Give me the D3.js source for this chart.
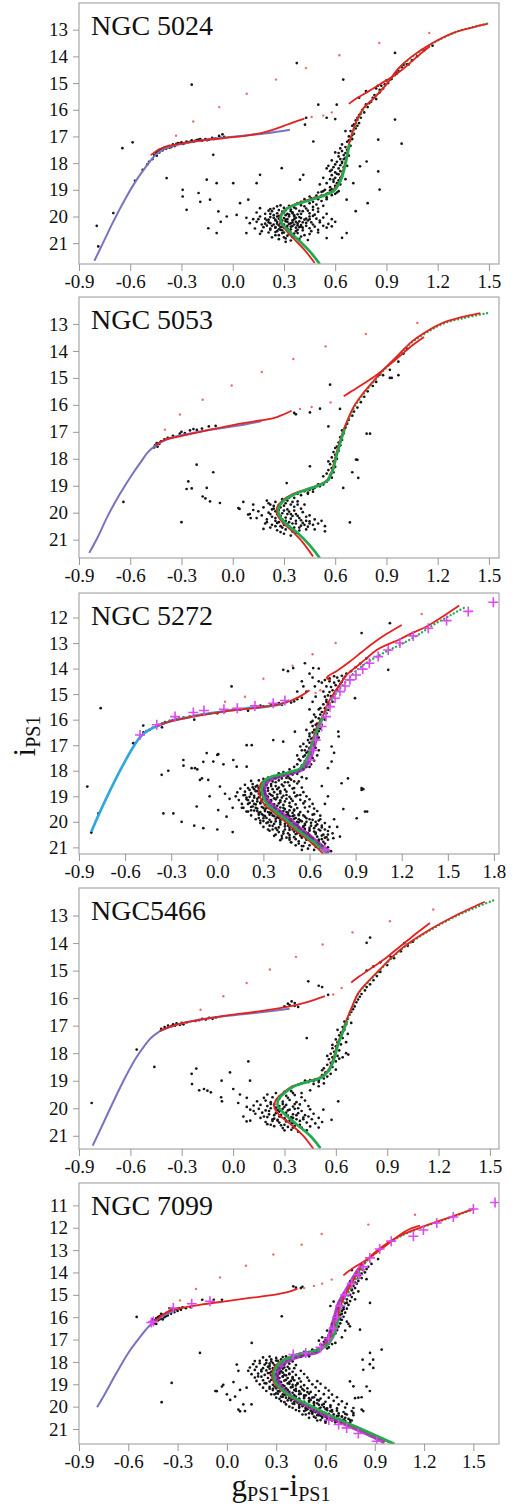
<!DOCTYPE html>
<html>
<head>
<meta charset="utf-8">
<script src="https://cdn.jsdelivr.net/npm/d3@7"></script>
<style>
  body { margin: 0; background: #fff; }
  svg { display: block; }
  text { font-family: "Liberation Serif", "Times New Roman", Times, serif; }
</style>
</head>
<body>
<svg id="cmd" width="517" height="1506"></svg>
<script>
'use strict';

/* Colour-magnitude diagrams of five globular clusters, g-i vs i (PS1). */

const clusterNames = ['NGC 5024', 'NGC 5053', 'NGC 5272', 'NGC5466', 'NGC 7099'];
const colorDomains = [[-0.9, 1.559], [-0.9, 1.559], [-0.9, 1.833], [-0.9, 1.553], [-0.9, 1.656]];
const magDomains = [[12.0, 21.78], [12.0, 21.68], [11.04, 21.26], [12.0, 21.48], [10.0, 21.67]];
const colorTicksShort = [-0.9, -0.6, -0.3, 0.0, 0.3, 0.6, 0.9, 1.2, 1.5];
const colorTicksLong = [-0.9, -0.6, -0.3, 0.0, 0.3, 0.6, 0.9, 1.2, 1.5, 1.8];
const magTicks13 = [13, 14, 15, 16, 17, 18, 19, 20, 21];
const magTicks12 = [12, 13, 14, 15, 16, 17, 18, 19, 20, 21];
const magTicks11 = [11, 12, 13, 14, 15, 16, 17, 18, 19, 20, 21];

// ---------------- NGC 5024 ----------------
const stars5024 = [
  // horizontal branch
  [-0.49,17.95],[-0.47,17.85],[-0.46,17.7],[-0.45,17.62],[-0.445,17.72],[-0.44,17.55],[-0.43,17.6],[-0.42,17.48],[-0.41,17.52],[-0.4,17.42],[-0.39,17.46],[-0.38,17.38],[-0.37,17.35],[-0.36,17.4],[-0.35,17.3],[-0.34,17.36],[-0.33,17.28],[-0.31,17.27],[-0.3,17.22],[-0.28,17.25],[-0.27,17.19],[-0.25,17.2],[-0.24,17.15],[-0.22,17.17],[-0.2,17.12],[-0.18,17.16],[-0.16,17.1],[-0.14,17.12],[-0.12,17.05],[-0.1,17.08],[-0.08,16.98],[-0.06,16.92],[-0.05,17.02],
  [-0.43,17.5],[-0.41,17.45],[-0.39,17.4],[-0.37,17.42],[-0.35,17.35],[-0.33,17.32],[-0.32,17.25],[-0.29,17.28],[-0.26,17.22],[-0.23,17.2],[-0.21,17.14],[-0.19,17.1],[-0.15,17.14],[-0.11,17.1],[-0.07,17.05],
  // blue tail
  [-0.646,17.44],[-0.586,17.22],[-0.572,18.66],[-0.699,19.87],[-0.796,20.35],[-0.787,21.12],[-0.387,18.56],[-0.527,18.25],[-0.5,18.05],
  // blue stragglers and field
  [-0.293,19.0],[-0.293,19.25],[-0.27,19.75],[-0.2,19.12],[-0.152,18.62],[-0.133,19.37],[-0.143,20.44],[-0.094,18.75],[-0.084,19.81],[-0.035,20.0],[0.003,18.75],[0.043,19.5],[0.091,19.37],[0.14,18.75],[0.16,19.69],[-0.19,19.45],[-0.094,20.62],[0.023,19.94],[0.08,20.62],[-0.07,20.2],
  [-0.24,15.06],[-0.114,17.69],[0.375,14.25],[0.95,13.87],[0.647,14.87],[0.501,15.81],[0.609,15.81],[0.423,16.56],[0.472,17.19],[0.852,17.12],[0.989,17.27],[0.95,16.37],[0.852,18.31],[0.86,18.99],[0.784,17.94],[0.745,18.12],[0.706,18.75],[0.667,19.37],[0.58,20.37],[0.667,20.62],[0.55,20.81],[0.16,18.44],[0.287,18.19],[0.413,18.44],[0.394,18.62],[0.6,16.35],[0.55,16.3],[0.43,16.3],[0.72,19.8],[0.64,20.8],[0.79,19.5],
  // red giant branch
  [0.5,19.1],[0.53,19.05],[0.56,19.12],[0.58,18.98],[0.45,19.25],[0.48,19.3],[0.52,19.22],[0.55,19.28],[0.6,19.15],[0.42,19.35],[0.4,19.45],[0.44,19.4],[0.47,19.45],[0.38,19.5],[0.5,19.35],[0.57,19.02],[0.62,19.05],
  [0.57,18.9],[0.6,18.85],[0.63,18.8],[0.55,18.75],[0.59,18.7],[0.62,18.65],[0.57,18.6],[0.6,18.55],[0.64,18.5],[0.53,18.55],[0.58,18.45],[0.62,18.42],[0.66,18.6],[0.51,18.8],
  [0.6,18.35],[0.63,18.3],[0.58,18.25],[0.62,18.2],[0.65,18.15],[0.56,18.1],[0.6,18.05],[0.64,18.0],[0.67,18.1],[0.61,17.95],[0.58,17.9],[0.63,17.85],[0.66,17.8],[0.55,18.2],
  [0.62,17.75],[0.65,17.7],[0.68,17.72],[0.6,17.6],[0.64,17.55],[0.67,17.5],[0.63,17.45],[0.66,17.4],[0.69,17.35],[0.64,17.3],
  [0.67,17.2],[0.7,17.1],[0.68,17.0],[0.71,16.9],[0.69,16.8],[0.72,16.7],[0.7,16.6],[0.74,16.5],[0.72,16.4],[0.75,16.3],[0.74,16.2],[0.77,16.1],[0.76,16.0],[0.79,15.9],[0.78,15.8],[0.81,15.7],[0.84,15.6],[0.83,15.45],[0.86,15.35],[0.88,15.2],[0.87,15.1],[0.91,15.0],[0.93,14.85],[0.95,14.7],[0.97,14.55],[0.99,14.4],[1.02,14.3],[1.05,14.15],[1.08,14.0],[1.12,13.78],[1.17,13.6],[0.84,15.2],[0.9,14.9],[0.66,16.8],[0.73,16.3],
  [0.59,18.62],[0.61,18.4],[0.63,18.08],[0.59,18.15],[0.62,17.62],[0.65,17.85],[0.6,18.92],[0.54,19.0],[0.49,19.22],[0.46,19.32],[0.63,18.55],[0.57,18.3],[0.64,17.95],[0.66,17.62],[0.61,18.75],[0.55,19.15],[0.52,19.08],[0.68,17.15],[0.7,16.95],[0.71,16.55],[0.73,16.6],[0.75,16.15],[0.8,15.75],[0.82,15.55],[0.86,15.25],[0.89,15.05],[0.96,14.65],[1.0,14.32],
  [0.74,15.55],[0.78,15.3],[0.85,15.1],[0.92,14.85],[0.96,14.6],[1.03,14.3],
  // turn-off and main sequence
  [0.26,19.62],[0.3,19.68],[0.33,19.6],[0.36,19.66],[0.4,19.58],[0.43,19.7],[0.22,19.72],[0.47,19.64],[0.28,19.58],[0.34,19.74],
  [0.14,19.85],[0.19,19.9],[0.23,19.8],[0.26,19.88],[0.29,19.82],[0.32,19.9],[0.35,19.84],[0.38,19.92],[0.41,19.8],[0.45,19.88],[0.5,19.82],[0.55,19.9],[0.21,19.78],[0.31,19.77],[0.39,19.79],[0.48,19.93],
  [0.08,20.05],[0.12,20.1],[0.16,20.0],[0.19,20.08],[0.22,20.02],[0.25,20.12],[0.27,19.98],[0.3,20.06],[0.33,20.0],[0.36,20.1],[0.39,20.02],[0.42,20.12],[0.45,20.0],[0.49,20.08],[0.53,20.04],[0.2,20.14],[0.28,20.15],[0.35,20.14],[0.44,20.15],[0.58,20.1],
  [0.1,20.25],[0.14,20.2],[0.17,20.3],[0.21,20.22],[0.24,20.3],[0.26,20.2],[0.29,20.28],[0.31,20.18],[0.34,20.26],[0.37,20.2],[0.4,20.32],[0.43,20.24],[0.47,20.3],[0.51,20.22],[0.56,20.28],[0.2,20.34],[0.32,20.35],[0.27,20.33],[0.38,20.33],[0.6,20.2],
  [0.13,20.45],[0.18,20.4],[0.22,20.5],[0.25,20.42],[0.28,20.5],[0.31,20.4],[0.34,20.48],[0.37,20.42],[0.41,20.52],[0.45,20.44],[0.5,20.5],[0.55,20.42],[0.26,20.55],[0.33,20.55],[0.4,20.38],
  [0.16,20.65],[0.21,20.6],[0.25,20.7],[0.29,20.62],[0.32,20.72],[0.36,20.64],[0.4,20.75],[0.45,20.66],[0.3,20.78],[0.5,20.6],[0.23,20.78],
  [0.27,20.85],[0.34,20.9],[0.39,20.84],[0.31,20.95],[0.44,20.88],
  [0.24,19.95],[0.27,20.08],[0.29,19.9],[0.31,20.12],[0.33,19.93],[0.35,20.22],[0.37,20.05],[0.26,20.27],[0.28,20.4],[0.3,20.3],[0.32,20.45],[0.35,20.36],[0.38,20.5],[0.23,20.35],[0.21,20.12],[0.19,20.27],[0.25,20.58],[0.29,20.52],[0.33,20.66],[0.36,20.3],[0.39,20.18],[0.41,20.42],[0.43,20.08],[0.46,20.22],[0.48,20.38],[0.3,19.85],[0.34,19.8],[0.37,19.7],[0.4,19.9],[0.42,19.62],[0.45,19.5],[0.49,19.55],[0.52,19.42],[0.55,19.35],[0.58,19.2],[0.61,19.1],[0.44,19.78],[0.47,19.98],[0.51,20.15],[0.53,20.35],[0.27,20.7],[0.31,20.82],[0.35,20.77],[0.38,20.62],[0.42,20.7],[0.22,20.45],[0.17,20.55],[0.15,20.1],[0.24,19.7],[0.36,19.95],[0.4,20.06],[0.25,20.15],[0.32,20.2],[0.29,20.38],[0.34,20.6],[0.27,19.76],[0.38,20.26],[0.3,20.6],[0.22,19.9],[0.46,20.55],
  [0.26,20.0],[0.28,20.25],[0.3,20.42],[0.32,20.1],[0.34,20.38],[0.36,20.0],[0.33,20.28],[0.27,20.48],[0.29,20.15],[0.31,19.95],[0.35,19.88],[0.39,20.4],[0.41,20.22],[0.24,20.05],[0.22,20.25],[0.25,20.4],[0.37,20.55],[0.43,20.35],[0.45,20.1],[0.5,19.7],[0.53,19.6],[0.47,19.75]
];
const zahb5024 = [[-0.81,21.66],[-0.76,21.0],[-0.7,20.2],[-0.63,19.35],[-0.56,18.6],[-0.51,18.15],[-0.48,17.9],[-0.45,17.68],[-0.41,17.5],[-0.35,17.36],[-0.25,17.22],[-0.1,17.08],[0.05,16.98],[0.2,16.88],[0.335,16.75]];
const hb5024 = [[-0.48,17.7],[-0.44,17.52],[-0.4,17.4],[-0.33,17.3],[-0.2,17.17],[-0.05,17.06],[0.1,16.95],[0.2,16.82],[0.28,16.65],[0.35,16.48],[0.42,16.33]];
const rgb5024 = [[0.48,21.74],[0.42,21.25],[0.36,20.85],[0.31,20.5],[0.28,20.2],[0.28,19.95],[0.31,19.72],[0.36,19.55],[0.45,19.36],[0.53,19.2],[0.58,19.05],[0.62,18.75],[0.645,18.3],[0.665,17.8],[0.68,17.3],[0.7,16.85],[0.73,16.35],[0.77,15.9],[0.83,15.55],[0.9,15.05],[0.97,14.45],[1.05,14.0],[1.17,13.5],[1.3,13.1],[1.4,12.92],[1.49,12.78]];
const green5024 = [[0.51,21.78],[0.45,21.3],[0.38,20.85],[0.32,20.5],[0.285,20.2],[0.285,19.95],[0.315,19.72],[0.37,19.55],[0.46,19.37],[0.54,19.2],[0.59,19.05],[0.625,18.75],[0.65,18.3],[0.668,17.8],[0.683,17.3]];
const greenDots5024 = [[0.683,17.3],[0.705,16.85],[0.735,16.35],[0.775,15.9],[0.835,15.5],[0.905,15.0],[0.975,14.45],[1.06,13.97],[1.18,13.48],[1.31,13.08],[1.41,12.9],[1.5,12.76]];
const agb5024 = [[0.68,15.78],[0.73,15.55],[0.79,15.33],[0.86,15.05],[0.93,14.78],[0.98,14.56],[1.05,14.18],[1.1,13.9],[1.155,13.62]];
const redDots5024 = [[1.151,13.12],[0.858,13.5],[0.624,13.96],[0.429,14.44],[0.253,14.87],[0.082,15.4],[-0.079,15.9],[-0.231,16.44],[-0.332,16.97],[0.462,16.27],[0.53,16.22],[0.58,16.1]];

// ---------------- NGC 5053 ----------------
const stars5053 = [
  // horizontal branch
  [-0.455,17.5],[-0.445,17.42],[-0.43,17.45],[-0.42,17.35],[-0.4,17.28],[-0.38,17.22],[-0.35,17.15],[-0.31,17.07],[-0.3,17.0],[-0.28,17.05],[-0.25,16.95],[-0.23,16.9],[-0.21,16.93],[-0.18,16.88],[-0.14,16.8],[-0.1,16.78],[-0.44,17.55],[-0.46,17.58],
  [-0.64,19.6],
  // blue stragglers and field
  [-0.211,18.22],[-0.26,18.84],[-0.27,19.12],[-0.24,19.1],[-0.152,19.08],[-0.114,18.5],[-0.176,19.4],[-0.16,19.47],[-0.133,19.58],[-0.075,19.64],[-0.3,20.35],[0.062,19.6],[0.033,19.83],[0.04,19.86],[0.09,20.07],[0.12,19.7],[0.105,20.2],
  [0.57,15.25],[0.511,16.14],[0.452,16.28],[0.36,16.3],[0.37,16.35],[0.628,16.15],[0.56,16.8],[0.784,17.07],[0.804,17.07],[0.722,18.03],[0.73,18.04],[0.7,18.5],[0.735,18.71],[0.647,19.08],[0.686,20.36],[0.54,20.69],[0.452,18.28],[0.316,18.9],[0.931,15.0],
  // red giant branch
  [0.42,19.2],[0.45,19.15],[0.48,19.08],[0.51,19.02],[0.53,18.95],[0.55,18.85],[0.56,18.78],[0.58,18.7],[0.57,18.6],[0.59,18.5],[0.56,18.42],[0.58,18.35],[0.6,18.3],[0.57,18.2],[0.59,18.1],[0.61,18.0],[0.58,17.95],[0.6,17.85],[0.62,17.7],[0.6,17.6],[0.63,17.5],[0.62,17.4],[0.64,17.3],[0.63,17.2],[0.65,17.05],[0.64,16.95],[0.66,16.85],[0.67,16.7],[0.68,16.55],[0.7,16.4],[0.71,16.25],[0.73,16.1],[0.75,15.9],[0.77,15.7],[0.79,15.5],[0.82,15.3],[0.84,15.15],[0.88,14.9],[0.92,14.7],[0.97,14.4],[0.55,18.55],[0.53,18.65],[0.6,18.0],[0.5,18.95],[0.44,19.25],[0.38,19.3],[0.47,19.12],[0.61,17.55],[0.59,17.75],[0.56,18.1],
  [0.86,14.88],[1.0,14.1],[1.02,13.92],[0.97,14.9],[0.92,15.0],
  // turn-off and main sequence
  [0.2,19.55],[0.25,19.6],[0.29,19.5],[0.33,19.45],[0.22,19.7],[0.27,19.72],[0.31,19.65],[0.35,19.6],[0.18,19.8],[0.24,19.85],[0.28,19.8],[0.32,19.88],[0.36,19.78],[0.4,19.85],[0.15,19.95],[0.21,20.0],[0.25,19.95],[0.29,20.02],[0.33,19.96],[0.37,20.05],[0.41,19.98],[0.45,20.1],[0.17,20.1],[0.23,20.15],[0.27,20.1],[0.31,20.18],[0.35,20.12],[0.39,20.2],[0.43,20.15],[0.48,20.25],[0.2,20.25],[0.25,20.3],[0.29,20.25],[0.33,20.35],[0.37,20.3],[0.41,20.38],[0.45,20.32],[0.5,20.4],[0.23,20.45],[0.28,20.5],[0.32,20.42],[0.36,20.55],[0.4,20.48],[0.44,20.52],[0.47,20.45],[0.26,20.65],[0.31,20.62],[0.35,20.7],[0.39,20.66],[0.3,20.78],[0.34,20.85],[0.12,19.9],[0.1,20.05],[0.14,20.2],[0.19,20.4],[0.52,20.3],[0.54,20.5],[0.48,20.62],[0.21,19.65],[0.38,19.58],[0.42,19.7],[0.26,20.38],[0.3,19.92],[0.34,20.05],[0.22,20.55],[0.18,20.6],[0.27,19.9],[0.3,20.45],[0.37,20.4],[0.43,20.3],
  [0.24,19.75],[0.26,19.9],[0.28,20.12],[0.3,19.74],[0.32,20.05],[0.34,20.22],[0.36,19.92],[0.38,20.12],[0.27,20.35],[0.31,20.3],[0.29,20.55],[0.33,20.5],[0.35,20.4],[0.39,20.55],[0.42,20.45],[0.25,20.2],[0.22,20.05],[0.2,20.35],[0.23,19.88],[0.32,19.55],[0.36,19.45],[0.4,19.35],[0.44,19.3],[0.47,19.22],[0.4,20.28],[0.43,20.62],[0.37,20.75],[0.28,20.72],[0.25,20.5],[0.45,20.4],[0.34,19.7],[0.26,20.05],[0.3,20.4],[0.38,19.7]
];
const zahb5053 = [[-0.84,21.49],[-0.79,20.9],[-0.73,20.1],[-0.66,19.3],[-0.58,18.5],[-0.53,18.05],[-0.5,17.78],[-0.46,17.55],[-0.42,17.38],[-0.35,17.2],[-0.2,17.0],[-0.05,16.85],[0.08,16.72],[0.17,16.6]];
const hb5053 = [[-0.45,17.5],[-0.4,17.3],[-0.31,17.17],[-0.15,16.95],[0.0,16.75],[0.12,16.62],[0.24,16.49],[0.3,16.35],[0.345,16.22]];
const rgb5053 = [[0.47,21.62],[0.41,21.1],[0.35,20.7],[0.29,20.35],[0.26,20.05],[0.26,19.8],[0.29,19.55],[0.34,19.35],[0.42,19.15],[0.49,19.0],[0.55,18.8],[0.58,18.45],[0.6,17.95],[0.625,17.4],[0.65,16.9],[0.68,16.45],[0.71,16.05],[0.76,15.6],[0.82,15.15],[0.89,14.65],[0.97,14.15],[1.04,13.7],[1.13,13.3],[1.23,12.96],[1.34,12.75],[1.45,12.6]];
const green5053 = [[0.51,21.68],[0.45,21.2],[0.38,20.75],[0.31,20.4],[0.27,20.05],[0.27,19.8],[0.3,19.55],[0.35,19.35],[0.43,19.15],[0.5,19.0],[0.555,18.8],[0.585,18.45],[0.605,17.95],[0.63,17.4],[0.655,16.9]];
const greenDots5053 = [[0.655,16.9],[0.685,16.45],[0.715,16.05],[0.765,15.6],[0.825,15.15],[0.895,14.65],[0.975,14.15],[1.045,13.7],[1.14,13.3],[1.24,12.97],[1.36,12.77],[1.49,12.6]];
const agb5053 = [[0.65,15.68],[0.7,15.48],[0.77,15.2],[0.84,14.9],[0.92,14.5],[0.98,14.18],[1.05,13.8],[1.12,13.48]];
const redDots5053 = [[1.081,12.96],[0.78,13.37],[0.544,13.83],[0.355,14.3],[0.17,14.78],[-0.006,15.28],[-0.176,15.81],[-0.309,16.36],[-0.397,16.92],[0.394,16.15],[0.462,16.08],[0.573,15.91]];

// ---------------- NGC 5272 ----------------
const stars5272 = [
  // horizontal branch
  [-0.5,16.66],[-0.48,16.5],[-0.46,16.45],[-0.44,16.4],[-0.42,16.32],[-0.4,16.28],[-0.38,16.2],[-0.36,16.15],[-0.34,16.1],[-0.31,16.05],[-0.29,16.02],[-0.27,15.98],[-0.25,15.96],[-0.22,15.92],[-0.18,15.88],[-0.15,15.85],[-0.1,15.8],[-0.05,15.75],[0.05,15.68],[0.1,15.62],[0.15,15.6],[0.2,15.55],[0.25,15.52],[0.3,15.48],[0.35,15.42],[0.4,15.35],[0.45,15.3],[0.5,15.28],[0.52,15.2],[0.55,15.15],[-0.15,16.0],[-0.54,16.95],[-0.36,16.3],[0.0,15.75],[0.2,15.65],[0.28,15.45],[0.42,15.42],[0.48,15.33],
  // blue tail and field
  [-0.846,18.62],[-0.774,19.67],[-0.759,15.55],[-0.547,16.92],[-0.482,16.23],[-0.82,20.42],
  [-0.362,18.16],[-0.319,18.0],[-0.221,17.58],[-0.22,17.8],[-0.167,17.9],[-0.091,17.65],[-0.069,17.31],[0.006,17.35],[-0.113,18.36],[0.017,18.62],[-0.351,19.67],[-0.286,19.67],[-0.232,20.0],[-0.15,20.15],[-0.091,20.25],[0.006,19.54],[0.06,19.8],[0.1,19.45],[-0.145,17.9],[-0.13,17.95],[-0.026,17.64],[0.04,17.75],[0.104,17.58],[0.0,17.38],[-0.059,18.36],[-0.1,18.3],[-0.134,19.4],[0.126,17.84],[0.191,17.84],[0.191,17.0],[0.224,17.0],[0.364,16.8],[0.093,14.7],[0.429,16.86],[0.505,16.47],[0.05,18.9],[0.08,19.1],[0.0,20.3],[-0.05,19.0],[0.1,20.4],
  [0.787,16.47],[0.79,16.66],[0.744,17.05],[0.76,17.3],[0.744,17.64],[0.72,17.9],[0.809,18.49],[0.939,18.68],[0.95,18.72],[0.85,18.3],[0.68,18.6],[0.72,19.0],[0.7,19.3],[0.755,20.64],[0.78,20.2],[0.907,19.86],[0.961,19.6],[0.975,19.6],[0.939,18.75],[0.798,20.58],[0.76,19.9],[0.82,19.5],
  [0.429,14.05],[0.494,13.98],[0.57,13.79],[0.624,13.98],[0.46,14.1],[0.66,14.0],[0.55,14.5],[0.66,14.5],[0.635,14.7],[0.56,14.7],[0.52,14.9],[0.896,15.16],[0.939,12.61],[1.123,12.22],[1.112,14.05],[0.6,14.2],[0.62,14.35],[0.58,14.9],[0.64,15.1],[0.62,15.3],[0.6,15.6],[0.63,15.8],
  // red giant branch
  [0.5,18.05],[0.53,18.0],[0.56,17.95],[0.45,18.1],[0.48,18.12],[0.58,17.85],[0.55,17.8],[0.52,17.75],[0.57,17.7],[0.6,17.65],[0.54,17.6],[0.58,17.55],[0.62,17.5],[0.56,17.45],[0.6,17.4],[0.52,17.4],[0.58,17.3],[0.62,17.25],[0.55,17.2],[0.6,17.15],[0.64,17.1],[0.58,17.05],[0.62,17.0],[0.56,16.95],[0.6,16.9],[0.64,16.85],[0.59,16.8],[0.62,16.72],[0.66,16.7],[0.6,16.65],[0.64,16.6],[0.62,16.5],[0.66,16.45],[0.63,16.4],[0.67,16.35],[0.65,16.3],[0.62,16.25],[0.68,16.2],[0.65,16.15],[0.67,16.05],[0.7,16.0],[0.66,15.95],[0.69,15.9],[0.67,15.8],[0.71,15.75],[0.68,15.7],[0.72,15.62],[0.7,15.55],[0.73,15.48],[0.69,15.4],[0.72,15.35],[0.75,15.3],[0.71,15.22],[0.74,15.15],[0.72,15.05],[0.76,15.0],[0.73,14.92],[0.75,14.85],[0.78,14.8],[0.74,14.72],[0.77,14.65],[0.8,14.6],[0.76,14.55],[0.79,14.48],[0.82,14.4],[0.78,14.35],[0.81,14.28],[0.84,14.2],[0.87,14.1],[0.9,13.95],[0.93,13.8],[0.97,13.6],[0.55,17.9],[0.5,17.85],[0.47,17.95],[0.43,18.05],[0.4,18.1],[0.61,17.75],[0.53,17.55],[0.57,17.2],[0.54,17.05],[0.6,16.55],[0.58,16.4],[0.61,16.1],[0.64,15.9],[0.66,15.6],[0.7,15.1],[0.71,14.7],[0.73,14.5],[0.7,14.45],[0.73,14.38],[0.76,14.3],[0.68,14.55],
  [0.6,17.85],[0.63,17.6],[0.65,17.4],[0.57,17.62],[0.59,17.25],[0.63,16.95],[0.61,16.75],[0.65,16.55],[0.64,16.2],[0.68,15.98],[0.7,15.68],[0.73,15.42],[0.74,15.08],[0.77,14.88],[0.79,14.7],[0.81,14.52],[0.83,14.32],[0.66,17.2],[0.6,17.1],[0.57,17.4],[0.64,16.4],[0.62,16.05],[0.67,15.55],[0.71,15.3],[0.69,14.9],
  // turn-off and main sequence
  [0.33,18.27],[0.36,18.22],[0.4,18.25],[0.43,18.18],[0.46,18.22],[0.49,18.15],[0.38,18.3],[0.45,18.28],[0.52,18.12],[0.3,18.32],
  [0.22,18.4],[0.27,18.38],[0.3,18.44],[0.33,18.36],[0.36,18.42],[0.4,18.38],[0.44,18.45],[0.48,18.35],[0.53,18.42],
  [0.18,18.55],[0.23,18.52],[0.26,18.58],[0.29,18.5],[0.32,18.56],[0.35,18.52],[0.38,18.6],[0.42,18.54],[0.47,18.58],[0.52,18.5],
  [0.15,18.7],[0.2,18.68],[0.24,18.72],[0.27,18.66],[0.3,18.74],[0.33,18.68],[0.36,18.72],[0.4,18.66],[0.44,18.74],[0.49,18.7],[0.55,18.66],
  [0.13,18.85],[0.18,18.82],[0.22,18.88],[0.25,18.8],[0.28,18.86],[0.31,18.82],[0.34,18.9],[0.37,18.84],[0.41,18.88],[0.45,18.82],[0.5,18.86],[0.56,18.84],
  [0.12,19.0],[0.17,18.96],[0.21,19.02],[0.24,18.98],[0.27,19.04],[0.3,18.96],[0.33,19.02],[0.36,18.98],[0.39,19.04],[0.43,18.98],[0.47,19.02],[0.52,18.96],[0.58,19.0],
  [0.14,19.15],[0.19,19.12],[0.23,19.18],[0.26,19.1],[0.29,19.16],[0.32,19.12],[0.35,19.18],[0.38,19.12],[0.41,19.16],[0.45,19.1],[0.49,19.18],[0.54,19.14],[0.6,19.12],
  [0.16,19.3],[0.21,19.26],[0.25,19.32],[0.28,19.28],[0.31,19.34],[0.34,19.26],[0.37,19.32],[0.4,19.28],[0.43,19.34],[0.47,19.26],[0.51,19.32],[0.56,19.28],[0.62,19.3],
  [0.17,19.45],[0.22,19.42],[0.26,19.48],[0.29,19.42],[0.32,19.46],[0.35,19.4],[0.38,19.48],[0.41,19.44],[0.44,19.5],[0.48,19.42],[0.52,19.46],[0.57,19.44],[0.63,19.48],
  [0.19,19.6],[0.24,19.56],[0.28,19.62],[0.31,19.58],[0.34,19.64],[0.37,19.56],[0.4,19.62],[0.43,19.58],[0.46,19.64],[0.5,19.56],[0.54,19.62],[0.59,19.6],[0.65,19.58],
  [0.22,19.75],[0.27,19.72],[0.31,19.78],[0.34,19.72],[0.37,19.78],[0.4,19.74],[0.43,19.8],[0.46,19.72],[0.49,19.78],[0.53,19.74],[0.57,19.8],[0.62,19.72],[0.67,19.76],
  [0.25,19.9],[0.3,19.86],[0.34,19.92],[0.38,19.88],[0.41,19.94],[0.44,19.86],[0.47,19.92],[0.5,19.88],[0.54,19.94],[0.58,19.86],[0.62,19.92],[0.67,19.9],
  [0.28,20.05],[0.33,20.02],[0.37,20.08],[0.41,20.02],[0.44,20.08],[0.47,20.04],[0.5,20.1],[0.53,20.02],[0.57,20.08],[0.61,20.04],[0.65,20.1],[0.7,20.05],
  [0.3,20.2],[0.36,20.16],[0.4,20.22],[0.44,20.18],[0.47,20.24],[0.5,20.16],[0.53,20.22],[0.56,20.18],[0.6,20.24],[0.64,20.16],[0.68,20.22],
  [0.34,20.35],[0.39,20.32],[0.43,20.38],[0.47,20.32],[0.5,20.38],[0.53,20.34],[0.56,20.4],[0.6,20.32],[0.63,20.38],[0.67,20.34],[0.72,20.36],
  [0.38,20.5],[0.43,20.46],[0.47,20.52],[0.51,20.48],[0.54,20.54],[0.57,20.46],[0.6,20.52],[0.64,20.48],[0.68,20.54],[0.72,20.5],
  [0.42,20.65],[0.47,20.62],[0.51,20.68],[0.55,20.62],[0.58,20.68],[0.62,20.64],[0.66,20.7],[0.7,20.62],
  [0.48,20.8],[0.53,20.76],[0.57,20.82],[0.61,20.78],[0.65,20.84],[0.69,20.78],
  [0.55,20.95],[0.6,20.92],[0.64,20.98],[0.68,20.94],
  [0.29,18.6],[0.31,18.45],[0.34,18.33],[0.37,18.28],[0.42,18.3],[0.47,18.3],[0.26,18.8],[0.28,18.95],[0.3,19.1],[0.27,18.7],[0.31,18.9],[0.33,18.78],[0.35,18.95],[0.37,19.08],[0.39,18.93],[0.32,19.22],[0.34,19.4],[0.36,19.52],[0.39,19.37],[0.41,19.22],[0.43,19.45],[0.45,19.62],[0.42,19.68],[0.47,19.78],[0.49,19.65],[0.51,19.85],[0.48,19.98],[0.52,20.12],[0.55,19.98],[0.57,20.28],[0.54,20.3],[0.59,20.44],[0.61,20.6],[0.63,20.25],[0.65,20.58],[0.66,20.75],[0.58,20.7],[0.62,20.85],[0.7,20.85],[0.72,21.0],[0.67,21.05],[0.63,21.1],[0.4,19.85],[0.38,19.62],[0.36,19.75],[0.44,19.95],[0.46,20.15],[0.49,20.3],[0.52,20.45],[0.55,20.58],[0.44,20.3],[0.41,20.1],[0.38,19.98],[0.3,19.45],[0.28,19.25],[0.26,19.2],[0.24,19.05],[0.22,18.92],[0.25,18.62],[0.21,18.75],[0.19,19.05],[0.2,19.3],[0.23,19.4],[0.26,19.58],[0.29,19.7],[0.32,19.85],[0.35,20.0],[0.33,19.62],[0.47,19.38],[0.5,19.52],[0.53,19.7],[0.56,19.75],[0.6,19.9],[0.64,20.0],[0.68,20.15],[0.7,20.3],[0.61,20.15],[0.58,20.0],[0.45,18.95],[0.48,19.1],[0.51,19.0],[0.42,19.05],[0.39,18.72],[0.43,18.6],[0.46,18.45],[0.5,18.42],[0.55,18.25],[0.58,18.3],[0.5,18.68],[0.54,18.95],[0.57,19.2],[0.6,19.4],[0.63,19.7],[0.66,19.95],[0.69,20.5],[0.72,20.7],[0.73,20.2],[0.75,20.45],[0.5,20.6],[0.46,20.45],[0.47,20.7],[0.53,20.85],[0.56,20.95],[0.59,21.05],[0.35,19.15],[0.24,19.3],[0.18,18.95],[0.16,19.45],[0.2,19.6],[0.3,19.97],[0.34,20.15],[0.38,20.25],[0.27,19.85],
  [0.285,18.55],[0.3,18.68],[0.32,18.98],[0.29,19.18],[0.31,19.52],[0.33,19.3],[0.35,19.66],[0.37,19.44],[0.39,19.82],[0.41,19.58],[0.43,19.9],[0.45,19.74],[0.46,20.05],[0.48,19.9],[0.5,20.22],[0.52,20.0],[0.54,20.38],[0.56,20.2],[0.58,20.52],[0.6,20.35],[0.62,20.7],[0.64,20.42],[0.66,20.88],[0.68,20.68],[0.7,21.1],[0.74,21.15],[0.27,18.9],[0.25,19.45],[0.27,19.65],[0.3,19.75],[0.32,20.05],[0.36,20.3],[0.4,20.4],[0.42,20.55],[0.45,20.62],[0.48,20.8],[0.51,20.92],[0.55,21.1],[0.35,18.6],[0.38,18.45],[0.41,18.8],[0.44,19.2],[0.47,19.55],[0.5,19.75],[0.53,19.9],[0.57,20.12],[0.6,20.6],[0.63,20.88],[0.66,20.3],[0.71,20.6],[0.23,18.65],[0.2,19.15],[0.22,19.55],[0.28,19.95],[0.33,20.3],[0.37,20.55],[0.41,20.72]
];
const zahb5272 = [[-0.82,20.39],[-0.77,19.7],[-0.7,18.8],[-0.62,17.85],[-0.55,17.1],[-0.5,16.66],[-0.45,16.42],[-0.39,16.25],[-0.3,16.05],[-0.2,15.92],[-0.11,15.81],[0.0,15.71],[0.1,15.62],[0.2,15.55],[0.32,15.49],[0.42,15.38],[0.47,15.24]];
const hb5272 = [[-0.4,16.27],[-0.3,16.06],[-0.2,15.93],[-0.1,15.82],[0.0,15.72],[0.1,15.64],[0.2,15.58],[0.3,15.5],[0.4,15.4],[0.48,15.25],[0.55,15.05],[0.6,14.85]];
const rgb5272 = [[0.69,21.26],[0.62,20.85],[0.56,20.58],[0.49,20.25],[0.43,19.93],[0.36,19.6],[0.31,19.34],[0.28,19.05],[0.272,18.8],[0.29,18.45],[0.34,18.27],[0.4,18.17],[0.48,18.04],[0.535,17.92],[0.585,17.5],[0.61,17.0],[0.63,16.6],[0.655,16.2],[0.69,15.8],[0.72,15.35],[0.76,14.95],[0.8,14.6],[0.85,14.2],[0.907,13.92],[0.97,13.6],[1.037,13.27],[1.11,13.05],[1.188,12.85],[1.27,12.6],[1.362,12.35],[1.47,11.95],[1.574,11.53]];
const green5272 = [[0.715,21.26],[0.64,20.85],[0.58,20.58],[0.51,20.25],[0.45,19.93],[0.38,19.6],[0.33,19.34],[0.3,19.05],[0.288,18.75],[0.31,18.38],[0.36,18.22],[0.41,18.15],[0.49,18.02],[0.54,17.9],[0.59,17.45],[0.615,17.0],[0.635,16.66],[0.66,16.25],[0.69,15.88]];
const greenDots5272 = [[0.69,15.88],[0.73,15.4],[0.775,14.96],[0.84,14.5],[0.9,14.1],[0.97,13.78],[1.037,13.53],[1.11,13.3],[1.188,13.07],[1.3,12.7],[1.405,12.29],[1.52,11.9],[1.62,11.57]];
const purple5272 = [[0.73,21.2],[0.66,20.85],[0.6,20.55],[0.53,20.22],[0.47,19.9],[0.4,19.58],[0.35,19.3],[0.315,19.0],[0.305,18.75],[0.33,18.4],[0.42,18.18],[0.55,17.95],[0.605,17.5],[0.63,17.0],[0.65,16.6]];
const agb5272 = [[0.74,14.44],[0.712,14.38],[0.72,14.3],[0.78,14.08],[0.863,13.72],[0.94,13.35],[1.015,13.0],[1.1,12.65],[1.2,12.29]];
const redDots5272 = [[1.33,11.86],[0.77,13.0],[0.62,13.44],[0.49,13.89],[0.3,14.4],[0.18,15.1],[0.05,15.3],[0.64,14.95],[0.67,14.85]];
const crosses5272 = [
  [-0.503,16.6],[-0.394,16.2],[-0.275,15.88],[-0.156,15.72],[-0.087,15.64],[0.043,15.59],[0.13,15.55],[0.245,15.46],[0.364,15.36],[0.44,15.25],
  [1.796,11.4],[1.633,11.76],[1.492,12.12],[1.373,12.42],[1.275,12.72],[1.188,13.0],[1.112,13.27],[1.047,13.53],[0.989,13.79],[0.946,14.02],[0.902,14.25],[0.863,14.44],[0.831,14.68],[0.798,14.9],[0.766,15.16],[0.733,15.49],[0.707,15.88],[0.679,16.27],
  [0.64,16.8],[0.62,17.2],[0.603,17.58],[0.7,21.1]
];

// ---------------- NGC 5466 ----------------
const stars5466 = [
  // horizontal branch
  [-0.42,17.12],[-0.4,17.05],[-0.38,17.0],[-0.36,17.02],[-0.35,16.95],[-0.33,16.92],[-0.31,16.97],[-0.3,16.9],[-0.29,16.95],[-0.27,16.88],[-0.2,16.8],[-0.18,16.75],[-0.16,16.78],[-0.14,16.72],[-0.12,16.75],[-0.1,16.7],[-0.22,16.83],[-0.34,17.0],[0.3,16.3],[0.33,16.25],[0.36,16.28],[0.32,16.2],[0.38,16.32],
  [-0.826,19.81],[-0.563,17.87],[-0.46,18.5],
  // blue stragglers and field
  [0.089,18.3],[-0.242,18.75],[-0.215,18.56],[-0.018,18.7],[-0.24,19.12],[-0.198,19.35],[-0.17,19.3],[-0.15,19.36],[-0.13,19.42],[-0.067,19.0],[-0.07,19.6],[-0.065,19.75],[0.001,19.3],[0.04,19.5],[0.099,19.0],[0.08,19.62],[0.03,19.81],[0.079,20.48],[0.12,20.1],
  [0.439,15.39],[0.52,15.6],[0.5,15.55],[0.555,15.88],[0.43,17.45],[0.614,19.75],[0.575,20.42],[0.527,20.05],[0.66,18.0],[0.673,18.05],[0.78,13.99],[0.8,13.8],[0.342,16.12],[0.36,16.18],
  // red giant branch
  [0.4,19.1],[0.44,19.05],[0.47,19.02],[0.5,18.98],[0.53,18.92],[0.48,18.95],[0.55,18.85],[0.52,18.8],[0.57,18.75],[0.54,18.7],[0.56,18.62],[0.53,18.55],[0.58,18.5],[0.55,18.42],[0.57,18.35],[0.6,18.3],[0.56,18.22],[0.58,18.15],[0.61,18.1],[0.57,18.02],[0.59,17.95],[0.62,17.9],[0.58,17.82],[0.6,17.75],[0.63,17.68],[0.61,17.6],[0.6,17.5],[0.64,17.45],[0.62,17.35],[0.63,17.25],[0.65,17.15],[0.64,17.05],[0.66,16.95],[0.65,16.85],[0.67,16.75],[0.68,16.6],[0.69,16.5],[0.7,16.4],[0.71,16.3],[0.72,16.15],[0.73,16.05],[0.74,15.95],[0.75,15.85],[0.77,15.72],[0.78,15.6],[0.8,15.5],[0.82,15.35],[0.84,15.2],[0.86,15.05],[0.9,14.8],[0.94,14.55],[0.98,14.3],[1.02,14.1],[1.05,13.95],[0.5,19.05],[0.45,18.98],[0.52,18.62],[0.62,18.2],[0.66,17.6],[0.55,18.1],[0.58,17.7],[0.61,17.15],[0.69,16.9],[0.47,19.12],[0.38,19.15],[0.35,19.2],[0.42,19.0],[0.6,18.6],[0.64,18.15],[0.67,17.3],
  [0.78,15.0],[0.86,14.7],[0.92,14.5],[1.0,14.0],[1.02,14.05],[0.82,14.85],
  // turn-off and main sequence
  [0.2,19.5],[0.25,19.45],[0.3,19.4],[0.34,19.38],[0.18,19.62],[0.23,19.6],[0.27,19.58],[0.31,19.55],[0.36,19.52],[0.4,19.6],[0.14,19.75],[0.19,19.72],[0.22,19.78],[0.26,19.7],[0.29,19.76],[0.33,19.7],[0.37,19.78],[0.42,19.72],[0.12,19.9],[0.16,19.88],[0.2,19.92],[0.24,19.86],[0.27,19.92],[0.31,19.88],[0.35,19.94],[0.39,19.86],[0.44,19.92],[0.1,20.05],[0.15,20.02],[0.19,20.08],[0.22,20.0],[0.26,20.06],[0.29,20.02],[0.32,20.08],[0.36,20.02],[0.4,20.1],[0.45,20.04],[0.13,20.2],[0.17,20.16],[0.21,20.22],[0.25,20.18],[0.28,20.24],[0.31,20.16],[0.35,20.22],[0.38,20.18],[0.42,20.25],[0.47,20.2],[0.16,20.35],[0.2,20.32],[0.24,20.38],[0.27,20.3],[0.3,20.36],[0.34,20.32],[0.37,20.4],[0.41,20.34],[0.46,20.4],[0.5,20.35],[0.19,20.5],[0.23,20.46],[0.27,20.52],[0.31,20.48],[0.35,20.54],[0.39,20.46],[0.43,20.52],[0.48,20.55],[0.24,20.65],[0.28,20.62],[0.32,20.68],[0.36,20.64],[0.4,20.7],[0.45,20.66],[0.3,20.8],[0.34,20.78],[0.38,20.85],[0.43,20.8],[0.08,19.95],[0.06,20.3],[0.1,20.45],[0.52,20.5],[0.5,20.7],[0.22,20.6],[0.35,19.45],[0.29,19.85],[0.33,20.45],[0.26,20.42],
  [0.22,19.85],[0.25,19.98],[0.27,20.12],[0.3,19.95],[0.28,20.3],[0.32,20.27],[0.24,20.25],[0.26,20.45],[0.3,20.6],[0.34,20.55],[0.37,20.25],[0.33,20.05],[0.36,19.85],[0.21,20.1],[0.18,20.3],[0.2,20.58],[0.29,20.72],[0.35,20.7],[0.39,20.6],[0.41,20.4],[0.44,20.3],[0.38,20.0],[0.32,19.62],[0.27,19.65],[0.4,19.45],[0.45,19.35],[0.5,19.2],[0.53,19.1],[0.23,20.4],[0.27,20.02],[0.31,20.45],[0.35,20.35]
];
const zahb5466 = [[-0.82,21.36],[-0.77,20.7],[-0.71,19.9],[-0.64,19.0],[-0.57,18.2],[-0.52,17.75],[-0.48,17.45],[-0.44,17.25],[-0.38,17.08],[-0.29,16.9],[-0.15,16.74],[0.0,16.62],[0.15,16.52],[0.33,16.39]];
const hb5466 = [[-0.43,17.2],[-0.36,17.02],[-0.29,16.9],[-0.15,16.74],[0.0,16.6],[0.15,16.48],[0.33,16.3],[0.4,16.2],[0.47,16.07],[0.536,15.93]];
const rgb5466 = [[0.47,21.48],[0.41,21.0],[0.34,20.6],[0.27,20.25],[0.24,19.95],[0.25,19.7],[0.29,19.45],[0.34,19.22],[0.42,19.05],[0.5,18.9],[0.555,18.62],[0.585,18.2],[0.605,17.75],[0.635,17.25],[0.663,16.78],[0.695,16.3],[0.731,15.81],[0.78,15.45],[0.85,15.0],[0.93,14.5],[1.0,14.12],[1.15,13.51],[1.3,13.0],[1.4,12.7],[1.47,12.5]];
const green5466 = [[0.51,21.45],[0.45,21.0],[0.37,20.58],[0.3,20.2],[0.26,19.9],[0.265,19.68],[0.3,19.45],[0.35,19.22],[0.43,19.05],[0.51,18.9],[0.56,18.62],[0.59,18.2],[0.61,17.75],[0.64,17.25],[0.665,16.85]];
const greenDots5466 = [[0.665,16.85],[0.695,16.35],[0.73,15.85],[0.785,15.45],[0.855,15.0],[0.935,14.5],[1.01,14.1],[1.16,13.5],[1.31,13.0],[1.42,12.7],[1.52,12.45]];
const agb5466 = [[0.69,15.43],[0.74,15.2],[0.81,14.9],[0.88,14.6],[0.95,14.25],[1.02,13.9],[1.08,13.6],[1.15,13.27]];
const redDots5466 = [[1.169,12.78],[0.916,13.21],[0.698,13.61],[0.523,14.05],[0.367,14.5],[0.215,14.96],[0.079,15.45],[-0.057,15.93],[-0.19,16.42],[0.585,15.87],[0.634,15.63]];

// ---------------- NGC 7099 ----------------
const stars7099 = [
  // horizontal branch
  [-0.46,16.2],[-0.45,16.1],[-0.44,16.28],[-0.43,16.05],[-0.42,16.15],[-0.41,15.95],[-0.4,16.05],[-0.39,15.9],[-0.38,16.0],[-0.37,15.82],[-0.36,15.92],[-0.35,15.75],[-0.34,15.85],[-0.33,15.7],[-0.32,15.78],[-0.31,15.65],[-0.3,15.72],[-0.29,15.6],[-0.28,15.67],[-0.27,15.56],[-0.25,15.6],[-0.22,15.55],[-0.15,15.22],[-0.08,15.22],[-0.03,15.22],[0.404,14.62],[0.45,14.7],[0.46,14.64],[0.42,14.68],[-0.549,15.99],[-0.43,16.3],[-0.39,16.1],[-0.35,15.6],
  [-0.44,16.15],[-0.42,16.0],[-0.4,15.85],[-0.38,15.88],[-0.36,15.8],[-0.34,15.7],[-0.32,15.65],[-0.3,15.6],[-0.33,15.62],[-0.37,15.95],[-0.41,16.1],
  // field
  [-0.164,17.6],[0.151,17.15],[0.334,15.96],[-0.336,18.94],[-0.397,19.8],[-0.062,19.31],[-0.03,19.1],[0.06,18.12],[0.07,18.4],[0.07,20.13],[0.1,19.9],[0.04,18.9],[0.08,19.25],[0.12,19.15],[-0.022,19.02],[-0.07,19.3],[0.0,19.45],[0.02,19.7],[0.05,19.55],[0.08,20.21],[0.11,20.2],[0.15,19.9],
  [0.871,15.36],[0.73,16.2],[0.749,16.41],[0.81,16.56],[0.871,17.6],[0.89,17.9],[0.942,17.45],[0.87,18.1],[0.826,17.9],[0.891,18.27],[0.83,18.35],[0.749,18.87],[0.77,19.09],[0.85,19.1],[0.87,19.3],[0.8,19.6],[0.78,19.62],[0.82,19.58],[0.77,20.28],[0.83,20.2],[0.82,20.13],[0.73,20.35],[0.7,20.45],[0.75,20.6],
  // red giant branch
  [0.4,17.7],[0.44,17.65],[0.48,17.58],[0.52,17.52],[0.55,17.45],[0.58,17.38],[0.6,17.3],[0.57,17.22],[0.62,17.18],[0.59,17.1],[0.63,17.02],[0.6,16.95],[0.64,16.88],[0.62,16.8],[0.66,16.72],[0.63,16.65],[0.67,16.58],[0.65,16.5],[0.68,16.42],[0.66,16.35],[0.69,16.28],[0.67,16.2],[0.7,16.12],[0.68,16.05],[0.71,15.98],[0.69,15.9],[0.72,15.8],[0.7,15.72],[0.73,15.62],[0.71,15.55],[0.74,15.45],[0.72,15.38],[0.75,15.28],[0.73,15.2],[0.76,15.1],[0.74,15.02],[0.77,14.92],[0.76,14.8],[0.78,14.7],[0.77,14.6],[0.79,14.5],[0.8,14.38],[0.82,14.25],[0.81,14.12],[0.84,14.0],[0.83,13.88],[0.86,13.75],[0.88,13.62],[0.92,13.4],[0.5,17.62],[0.46,17.7],[0.36,17.75],[0.54,17.55],[0.61,17.4],[0.56,17.05],[0.58,16.9],[0.61,16.6],[0.64,16.3],[0.66,16.0],[0.74,16.3],[0.72,16.6],[0.7,16.9],[0.66,17.15],[0.69,15.3],[0.68,15.6],[0.78,15.2],[0.8,14.85],[0.72,14.9],[0.75,14.4],[0.85,14.3],[0.65,15.3],[0.63,15.5],
  [0.62,17.35],[0.6,17.0],[0.64,17.2],[0.65,16.8],[0.67,16.45],[0.69,16.1],[0.7,15.85],[0.71,15.65],[0.73,15.35],[0.75,15.0],[0.76,14.75],[0.78,14.45],[0.8,14.25],[0.82,14.05],[0.85,13.85],[0.47,17.55],[0.52,17.45],
  [0.76,13.9],[0.82,13.65],[0.84,13.55],
  // turn-off and main sequence
  [0.22,17.8],[0.26,17.76],[0.3,17.82],[0.34,17.78],[0.38,17.84],[0.42,17.78],
  [0.2,17.95],[0.24,17.92],[0.27,17.98],[0.3,17.94],[0.33,18.0],[0.36,17.92],[0.4,17.98],[0.17,17.96],
  [0.16,18.1],[0.2,18.06],[0.23,18.12],[0.26,18.08],[0.29,18.14],[0.32,18.06],[0.35,18.12],[0.38,18.08],[0.42,18.14],
  [0.14,18.25],[0.18,18.22],[0.22,18.28],[0.25,18.22],[0.28,18.28],[0.31,18.24],[0.34,18.3],[0.37,18.22],[0.41,18.28],
  [0.13,18.4],[0.17,18.36],[0.21,18.42],[0.24,18.38],[0.27,18.44],[0.3,18.36],[0.33,18.42],[0.36,18.38],[0.4,18.44],[0.45,18.4],
  [0.15,18.55],[0.19,18.52],[0.23,18.58],[0.26,18.5],[0.29,18.56],[0.32,18.52],[0.35,18.58],[0.38,18.52],[0.42,18.58],[0.47,18.54],
  [0.17,18.7],[0.21,18.66],[0.25,18.72],[0.28,18.68],[0.31,18.74],[0.34,18.66],[0.37,18.72],[0.4,18.68],[0.44,18.74],[0.49,18.7],
  [0.18,18.85],[0.22,18.82],[0.26,18.88],[0.29,18.82],[0.32,18.88],[0.35,18.84],[0.38,18.9],[0.41,18.82],[0.45,18.88],[0.5,18.84],[0.55,18.86],
  [0.2,19.0],[0.24,18.96],[0.28,19.02],[0.31,18.98],[0.34,19.04],[0.37,18.96],[0.4,19.02],[0.43,18.98],[0.47,19.04],[0.52,19.0],[0.57,18.98],
  [0.22,19.15],[0.26,19.12],[0.3,19.18],[0.33,19.12],[0.36,19.18],[0.39,19.14],[0.42,19.2],[0.45,19.12],[0.49,19.18],[0.54,19.14],[0.6,19.16],
  [0.24,19.3],[0.28,19.26],[0.32,19.32],[0.35,19.28],[0.38,19.34],[0.41,19.26],[0.44,19.32],[0.47,19.28],[0.51,19.34],[0.56,19.3],[0.62,19.28],
  [0.27,19.45],[0.31,19.42],[0.35,19.48],[0.38,19.42],[0.41,19.48],[0.44,19.44],[0.47,19.5],[0.5,19.42],[0.54,19.48],[0.59,19.44],[0.64,19.46],
  [0.3,19.6],[0.34,19.56],[0.38,19.62],[0.41,19.58],[0.44,19.64],[0.47,19.56],[0.5,19.62],[0.53,19.58],[0.57,19.64],[0.62,19.6],[0.67,19.58],
  [0.33,19.75],[0.37,19.72],[0.41,19.78],[0.44,19.72],[0.47,19.78],[0.5,19.74],[0.53,19.8],[0.56,19.72],[0.6,19.78],[0.65,19.74],[0.7,19.76],
  [0.36,19.9],[0.4,19.86],[0.44,19.92],[0.47,19.88],[0.5,19.94],[0.53,19.86],[0.56,19.92],[0.59,19.88],[0.63,19.94],[0.68,19.9],[0.73,19.88],
  [0.4,20.05],[0.44,20.02],[0.48,20.08],[0.51,20.02],[0.54,20.08],[0.57,20.04],[0.6,20.1],[0.63,20.02],[0.67,20.08],[0.72,20.04],[0.77,20.06],
  [0.44,20.2],[0.48,20.16],[0.52,20.22],[0.55,20.18],[0.58,20.24],[0.61,20.16],[0.64,20.22],[0.67,20.18],[0.71,20.24],[0.76,20.2],
  [0.48,20.35],[0.52,20.32],[0.56,20.38],[0.59,20.32],[0.62,20.38],[0.65,20.34],[0.68,20.4],[0.72,20.32],[0.77,20.38],
  [0.54,20.5],[0.58,20.46],[0.62,20.52],[0.65,20.48],[0.68,20.54],[0.72,20.5],
  [0.6,20.65],[0.64,20.62],[0.68,20.68],[0.72,20.64],
  [0.3,18.2],[0.32,18.45],[0.34,18.65],[0.36,18.8],[0.38,18.98],[0.4,19.12],[0.42,19.3],[0.45,19.42],[0.47,19.62],[0.5,19.78],[0.53,19.95],[0.56,20.1],[0.59,20.25],[0.62,20.32],[0.65,20.45],[0.69,20.58],[0.73,20.75],[0.28,18.38],[0.3,18.55],[0.32,18.72],[0.33,18.9],[0.35,19.08],[0.37,19.25],[0.4,19.38],[0.42,19.55],[0.44,19.7],[0.47,19.85],[0.5,20.0],[0.53,20.15],[0.56,20.3],[0.6,20.45],[0.63,20.58],[0.66,20.7],[0.26,18.18],[0.27,17.88],[0.25,18.5],[0.27,18.8],[0.29,19.1],[0.31,19.3],[0.34,19.45],[0.36,19.6],[0.39,19.72],[0.41,19.88],[0.44,20.05],[0.47,20.2],[0.5,20.3],[0.53,20.45],[0.57,20.6],[0.38,18.55],[0.4,18.75],[0.43,18.95],[0.46,19.22],[0.49,19.35],[0.52,19.6],[0.55,19.7],[0.58,19.92],[0.61,20.08],[0.64,20.15],[0.68,20.3],[0.7,20.45],[0.74,20.55],[0.35,18.25],[0.38,18.3],[0.21,18.35],[0.19,18.65],[0.23,18.95],[0.26,19.2],[0.29,19.45],[0.32,19.65],[0.35,19.8],[0.38,20.0],[0.42,20.15],[0.46,20.35],[0.5,20.5],[0.55,20.62],[0.6,20.72],[0.33,17.88],[0.24,18.05],[0.45,17.78],[0.5,17.75],
  [0.29,18.35],[0.31,18.62],[0.3,18.85],[0.33,19.15],[0.35,19.35],[0.38,19.5],[0.4,19.65],[0.43,19.82],[0.46,19.98],[0.49,20.12],[0.52,20.25],[0.55,20.38],[0.58,20.5],[0.62,20.55],[0.66,20.62],[0.7,20.7],[0.75,20.7],[0.27,18.6],[0.28,19.2],[0.3,19.4],[0.33,19.55],[0.36,19.45],[0.39,19.55],[0.42,19.75],[0.45,19.88],[0.48,20.05],[0.51,20.18],[0.54,20.25],[0.57,20.4],[0.61,20.55],[0.26,18.3],[0.28,18.05],[0.31,17.95],[0.36,17.85],[0.32,18.3],[0.34,18.48],[0.36,18.6],[0.39,18.85],[0.42,19.05],[0.44,19.3],[0.48,19.5],[0.51,19.7],[0.55,19.85],[0.59,20.02],[0.63,20.2],[0.67,20.42],[0.71,20.58],[0.76,20.62]
];
const zahb7099 = [[-0.79,20.03],[-0.74,19.4],[-0.68,18.6],[-0.6,17.6],[-0.53,16.9],[-0.48,16.45],[-0.44,16.2],[-0.39,15.95],[-0.33,15.75]];
const hb7099 = [[-0.45,16.25],[-0.4,15.95],[-0.35,15.72],[-0.25,15.55],[-0.16,15.44],[0.0,15.28],[0.14,15.14],[0.25,15.04],[0.34,14.92],[0.39,14.83],[0.43,14.72]];
const rgb7099 = [[1.01,21.67],[0.9,21.3],[0.77,20.88],[0.65,20.5],[0.547,20.13],[0.46,19.82],[0.384,19.54],[0.32,19.2],[0.285,18.9],[0.275,18.6],[0.285,18.3],[0.32,18.0],[0.38,17.78],[0.445,17.62],[0.526,17.5],[0.6,17.25],[0.64,16.85],[0.66,16.4],[0.675,15.95],[0.69,15.5],[0.72,15.05],[0.749,14.62],[0.79,14.1],[0.83,13.6],[0.9,13.1],[0.973,12.7],[1.07,12.3],[1.175,12.0],[1.27,11.75],[1.358,11.54],[1.5,11.16]];
const green7099 = [[1.02,21.67],[0.91,21.3],[0.78,20.88],[0.66,20.5],[0.555,20.13],[0.47,19.82],[0.39,19.54],[0.33,19.2],[0.295,18.9],[0.285,18.6],[0.295,18.3],[0.33,18.0],[0.39,17.78],[0.455,17.62],[0.535,17.5],[0.61,17.25],[0.648,16.85],[0.668,16.4],[0.683,15.95]];
const greenDots7099 = [[0.683,15.95],[0.7,15.5],[0.73,15.05],[0.76,14.62],[0.8,14.1],[0.84,13.6],[0.91,13.1],[0.98,12.7],[1.08,12.3],[1.18,12.0],[1.28,11.75],[1.37,11.52],[1.51,11.15]];
const purple7099 = [[0.96,21.6],[0.85,21.2],[0.72,20.78],[0.6,20.38],[0.5,20.0],[0.42,19.68],[0.36,19.35],[0.32,19.0],[0.305,18.7],[0.31,18.4],[0.34,18.1],[0.4,17.85],[0.47,17.68],[0.55,17.55],[0.58,17.35],[0.62,16.9],[0.64,16.4],[0.66,15.9],[0.68,15.4],[0.71,15.0],[0.75,14.5],[0.79,14.0],[0.83,13.6]];
const agb7099 = [[0.709,14.13],[0.74,13.95],[0.79,13.7],[0.851,13.43],[0.95,12.9],[1.054,12.31],[1.11,12.07],[1.175,11.91]];
const redDots7099 = [[1.145,11.42],[0.861,11.86],[0.577,12.28],[0.455,12.76],[0.283,13.2],[0.116,13.7],[-0.042,14.22],[-0.188,14.74],[-0.285,15.25],[0.47,14.7],[0.53,14.6],[0.58,14.5],[0.638,14.32]];
const crosses7099 = [
  [-0.448,16.19],[-0.46,16.24],[-0.326,15.59],[-0.214,15.4],[-0.103,15.29],
  [1.632,10.87],[1.5,11.16],[1.378,11.52],[1.277,11.79],[1.196,12.1],[1.135,12.38],[1.0,12.6],[0.93,12.95],[0.87,13.35],[0.83,13.75],[0.8,14.1],[0.76,14.5],[0.72,15.0],[0.69,15.5],[0.67,16.0],[0.65,16.5],[0.62,16.95],[0.57,17.35],
  [0.404,17.67],[0.48,17.6],
  [0.912,21.55],[0.8,21.2],[0.729,20.95],[0.68,20.8],[0.62,20.6]
];

// one row per cluster; the library draws everything from these
const panels = [
  { name: clusterNames[0], colors: colorDomains[0], mags: magDomains[0], colorTicks: colorTicksShort, magTicks: magTicks13,
    stars: stars5024, zahb: zahb5024, hb: hb5024, rgb: rgb5024, green: green5024, greenDots: greenDots5024, agb: agb5024, redDots: redDots5024 },
  { name: clusterNames[1], colors: colorDomains[1], mags: magDomains[1], colorTicks: colorTicksShort, magTicks: magTicks13,
    stars: stars5053, zahb: zahb5053, hb: hb5053, rgb: rgb5053, green: green5053, greenDots: greenDots5053, agb: agb5053, redDots: redDots5053 },
  { name: clusterNames[2], colors: colorDomains[2], mags: magDomains[2], colorTicks: colorTicksLong, magTicks: magTicks12,
    stars: stars5272, zahb: zahb5272, hb: hb5272, rgb: rgb5272, green: green5272, greenDots: greenDots5272, agb: agb5272, redDots: redDots5272,
    purple: purple5272, crosses: crosses5272, cyan: true },
  { name: clusterNames[3], colors: colorDomains[3], mags: magDomains[3], colorTicks: colorTicksShort, magTicks: magTicks13,
    stars: stars5466, zahb: zahb5466, hb: hb5466, rgb: rgb5466, green: green5466, greenDots: greenDots5466, agb: agb5466, redDots: redDots5466 },
  { name: clusterNames[4], colors: colorDomains[4], mags: magDomains[4], colorTicks: colorTicksShort, magTicks: magTicks11,
    stars: stars7099, zahb: zahb7099, hb: hb7099, rgb: rgb7099, green: green7099, greenDots: greenDots7099, agb: agb7099, redDots: redDots7099,
    purple: purple7099, crosses: crosses7099 }
];

const serifFont = '"Liberation Serif", "Times New Roman", Times, "DejaVu Serif", serif';
const svg = d3.select('#cmd');
const plotLeft = 79;
const plotRight = 499;
const plotHeight = 261;
const plotTops = [3, 297, 593, 888, 1183];

svg.append('rect').attr('width', 517).attr('height', 1506).attr('fill', '#fff');

panels.forEach((p, i) => drawPanel(p, plotTops[i], i));
drawAxisTitles();

function drawPanel(p, top, i) {
  const x = d3.scaleLinear().domain(p.colors).range([plotLeft, plotRight]);
  const y = d3.scaleLinear().domain(p.mags).range([top, top + plotHeight]);
  const line = d3.line()
    .x((d) => x(d[0]))
    .y((d) => y(d[1]))
    .curve(d3.curveCatmullRom.alpha(0.5));

  const g = svg.append('g').attr('class', 'panel');
  const clipId = `clip-${i}`;
  g.append('clipPath')
    .attr('id', clipId)
      .append('rect')
      .attr('x', plotLeft)
      .attr('y', top)
      .attr('width', plotRight - plotLeft)
      .attr('height', plotHeight);

  const plot = g.append('g').attr('clip-path', `url(#${clipId})`);

  // observed stars
  plot.append('g')
    .selectAll('circle')
    .data(p.stars)
    .join('circle')
      .attr('cx', (d) => x(d[0]))
      .attr('cy', (d) => y(d[1]))
      .attr('r', 1.35)
      .attr('fill', '#151515');

  if (p.purple) {
    plot.append('path')
      .attr('d', line(p.purple))
      .attr('fill', 'none')
      .attr('stroke', '#9a1fb3')
      .attr('stroke-width', 4)
      .attr('stroke-opacity', 0.85);
  }

  // zero-age horizontal branch
  plot.append('path')
    .attr('d', line(p.zahb))
    .attr('fill', 'none')
    .attr('stroke', p.cyan ? '#2fa6dc' : '#7873bf')
    .attr('stroke-width', p.cyan ? 2.6 : 2);

  // green model: dotted on the upper giant branch
  plot.append('path')
    .attr('d', line(p.greenDots))
    .attr('fill', 'none')
    .attr('stroke', '#1faa4e')
    .attr('stroke-width', 2.3)
    .attr('stroke-linecap', 'round')
    .attr('stroke-dasharray', '0.1 3.6');

  // red model: RGB, AGB and HB
  [p.rgb, p.agb, p.hb].forEach((seg) => {
    plot.append('path')
      .attr('d', line(seg))
      .attr('fill', 'none')
      .attr('stroke', '#e3221f')
      .attr('stroke-width', 1.8);
  });

  plot.append('path')
    .attr('d', line(p.green))
    .attr('fill', 'none')
    .attr('stroke', '#1faa4e')
    .attr('stroke-width', 2.7);

  plot.append('g')
    .selectAll('circle')
    .data(p.redDots)
    .join('circle')
      .attr('cx', (d) => x(d[0]))
      .attr('cy', (d) => y(d[1]))
      .attr('r', 1.2)
      .attr('fill', '#f06a6a');

  if (p.crosses) {
    plot.append('g')
      .selectAll('path')
      .data(p.crosses)
      .join('path')
        .attr('d', 'M-5,0H5M0,-5V5')
        .attr('transform', (d) => `translate(${x(d[0])},${y(d[1])})`)
        .attr('stroke', '#dc4af0')
        .attr('stroke-width', 1.6);
  }

  // frame
  g.append('rect')
    .attr('x', plotLeft)
    .attr('y', top)
    .attr('width', plotRight - plotLeft)
    .attr('height', plotHeight)
    .attr('fill', 'none')
    .attr('stroke', '#a9a9a9')
    .attr('stroke-width', 1.2);

  const xAxis = g.append('g')
    .attr('transform', `translate(0,${top + plotHeight})`)
    .call(d3.axisBottom(x)
      .tickValues(p.colorTicks)
      .tickSize(7)
      .tickPadding(4)
      .tickFormat((d) => d.toFixed(1)));

  const yAxis = g.append('g')
    .attr('transform', `translate(${plotLeft},0)`)
    .call(d3.axisLeft(y)
      .tickValues(p.magTicks)
      .tickSize(6)
      .tickPadding(5)
      .tickFormat(d3.format('d')));

  [xAxis, yAxis].forEach((ax) => {
    ax.attr('font-family', serifFont).attr('font-size', 19);
    ax.select('.domain').remove();
    ax.selectAll('.tick line').attr('stroke', '#999');
    ax.selectAll('.tick text')
      .attr('fill', '#111')
      .attr('font-family', serifFont)
      .style('font-size', '19px');
  });

  g.append('text')
    .attr('x', 91)
    .attr('y', top + 32)
    .attr('fill', '#111')
    .attr('font-family', serifFont)
    .style('font-size', '28px')
    .text(p.name);
}

function drawAxisTitles() {
  const yTitle = svg.append('text')
    .attr('transform', 'translate(35,736) rotate(-90)')
    .attr('text-anchor', 'middle')
    .attr('font-family', serifFont)
    .attr('fill', '#111');
  yTitle.append('tspan').style('font-size', '31px').text('i');
  yTitle.append('tspan').style('font-size', '20px').attr('dy', 5).text('PS1');

  const xTitle = svg.append('text')
    .attr('x', 281)
    .attr('y', 1496)
    .attr('text-anchor', 'middle')
    .attr('font-family', serifFont)
    .attr('fill', '#111');
  xTitle.append('tspan').style('font-size', '31px').text('g');
  xTitle.append('tspan').style('font-size', '20px').attr('dy', 5).text('PS1');
  xTitle.append('tspan').style('font-size', '31px').attr('dy', -5).text('-i');
  xTitle.append('tspan').style('font-size', '20px').attr('dy', 5).text('PS1');
}
</script>
</body>
</html>
